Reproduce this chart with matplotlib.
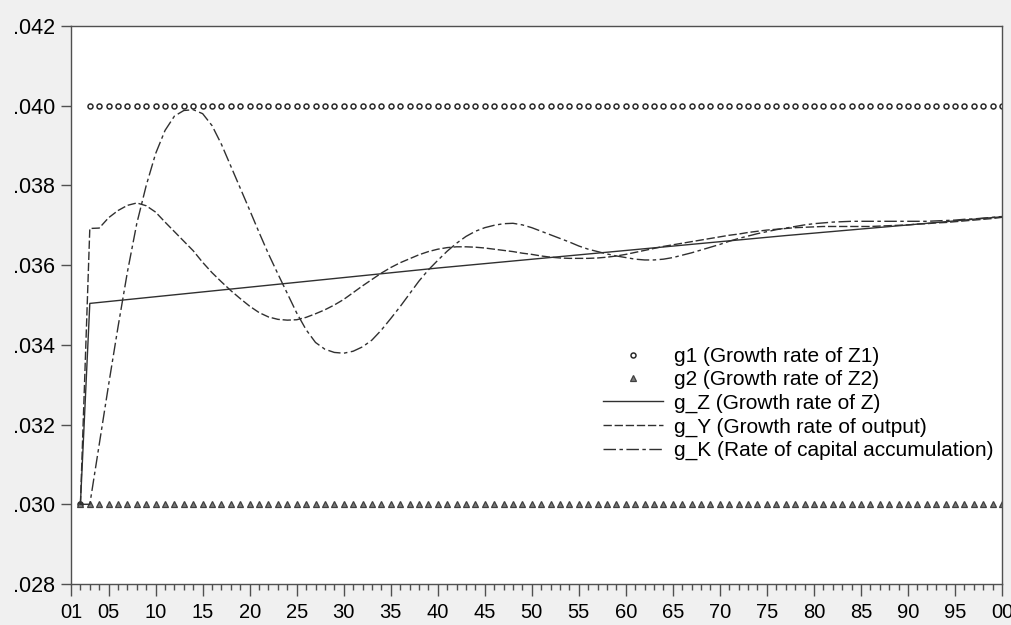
import matplotlib
matplotlib.use("Agg")
import matplotlib.pyplot as plt
from matplotlib.ticker import FixedLocator, MultipleLocator, FixedFormatter

plt.rcParams['font.family'] = ['Liberation Sans', 'DejaVu Sans']

# ---- data (annual, 2002-2100; year index 1 = 2001) ----
years = list(range(2, 101))

g1 = [0.030] + [0.040] * 98
g2 = [0.030] * 99

g_Z = [0.030000, 0.035040, 0.035064, 0.035088, 0.035112, 0.035136, 0.035160, 0.035184, 0.035208,
       0.035232, 0.035256, 0.035280, 0.035304, 0.035328, 0.035352, 0.035376, 0.035400, 0.035424, 0.035448,
       0.035472, 0.035496, 0.035520, 0.035544, 0.035568, 0.035592, 0.035616, 0.035640, 0.035664, 0.035688,
       0.035712, 0.035736, 0.035760, 0.035784, 0.035808, 0.035832, 0.035856, 0.035880, 0.035904, 0.035928,
       0.035950, 0.035972, 0.035994, 0.036016, 0.036038, 0.036060, 0.036082, 0.036104, 0.036126, 0.036148,
       0.036170, 0.036192, 0.036214, 0.036236, 0.036258, 0.036280, 0.036302, 0.036324, 0.036346, 0.036368,
       0.036390, 0.036412, 0.036434, 0.036456, 0.036478, 0.036500, 0.036522, 0.036544, 0.036566, 0.036588,
       0.036610, 0.036632, 0.036654, 0.036676, 0.036698, 0.036720, 0.036742, 0.036762, 0.036783, 0.036803,
       0.036824, 0.036844, 0.036865, 0.036885, 0.036906, 0.036926, 0.036947, 0.036967, 0.036988, 0.037008,
       0.037029, 0.037049, 0.037070, 0.037090, 0.037111, 0.037131, 0.037152, 0.037172, 0.037193, 0.037213]

g_Y = [0.03000, 0.03692, 0.03693, 0.03719, 0.03737, 0.03750, 0.03756, 0.03749, 0.03733,
       0.03708, 0.03684, 0.03660, 0.03636, 0.03607, 0.03581, 0.03558, 0.03536, 0.03516, 0.03497,
       0.03481, 0.03470, 0.03464, 0.03462, 0.03463, 0.03469, 0.03478, 0.03488, 0.03500, 0.03514,
       0.03531, 0.03548, 0.03564, 0.03580, 0.03594, 0.03606, 0.03616, 0.03626, 0.03634, 0.03640,
       0.03644, 0.03646, 0.03646, 0.03645, 0.03643, 0.03640, 0.03637, 0.03634, 0.03630, 0.03627,
       0.03623, 0.03620, 0.03618, 0.03617, 0.03617, 0.03617, 0.03618, 0.03620, 0.03623, 0.03627,
       0.03632, 0.03637, 0.03642, 0.03647, 0.03651, 0.03655, 0.03659, 0.03663, 0.03667, 0.03671,
       0.03675, 0.03678, 0.03682, 0.03685, 0.03688, 0.03690, 0.03692, 0.03694, 0.03695, 0.03696,
       0.03697, 0.03697, 0.03697, 0.03697, 0.03697, 0.03697, 0.03698, 0.03699, 0.03700, 0.03701,
       0.03703, 0.03704, 0.03706, 0.03707, 0.03709, 0.03711, 0.03713, 0.03715, 0.03717, 0.03720]

g_K = [0.03000, 0.03000, 0.03150, 0.03300, 0.03445, 0.03583, 0.03705, 0.03800, 0.03880,
       0.03938, 0.03974, 0.03988, 0.03990, 0.03980, 0.03950, 0.03903, 0.03848, 0.03793, 0.03738,
       0.03682, 0.03628, 0.03578, 0.03529, 0.03480, 0.03438, 0.03406, 0.03389, 0.03381, 0.03379,
       0.03384, 0.03395, 0.03412, 0.03437, 0.03466, 0.03496, 0.03528, 0.03560, 0.03588, 0.03612,
       0.03635, 0.03655, 0.03672, 0.03685, 0.03694, 0.03700, 0.03704, 0.03705, 0.03701, 0.03694,
       0.03685, 0.03676, 0.03667, 0.03658, 0.03648, 0.03640, 0.03634, 0.03628, 0.03623, 0.03619,
       0.03615, 0.03613, 0.03613, 0.03615, 0.03619, 0.03625, 0.03631, 0.03638, 0.03645, 0.03652,
       0.03660, 0.03667, 0.03673, 0.03679, 0.03684, 0.03689, 0.03693, 0.03697, 0.03701, 0.03704,
       0.03706, 0.03708, 0.03709, 0.03710, 0.03710, 0.03710, 0.03710, 0.03710, 0.03710, 0.03710,
       0.03710, 0.03710, 0.03711, 0.03712, 0.03713, 0.03715, 0.03716, 0.03718, 0.03720, 0.03722]

x_ticks = [1, 5, 10, 15, 20, 25, 30, 35, 40, 45, 50, 55, 60, 65, 70, 75, 80, 85, 90, 95, 100]
x_labels = ['01', '05', '10', '15', '20', '25', '30', '35', '40', '45', '50',
            '55', '60', '65', '70', '75', '80', '85', '90', '95', '00']
y_ticks = [0.028, 0.030, 0.032, 0.034, 0.036, 0.038, 0.040, 0.042]
y_labels = ['.028', '.030', '.032', '.034', '.036', '.038', '.040', '.042']

labels = ['g1 (Growth rate of Z1)', 'g2 (Growth rate of Z2)', 'g_Z (Growth rate of Z)',
          'g_Y (Growth rate of output)', 'g_K (Rate of capital accumulation)']

# ---- figure ----
W, H = 1011, 625
fig = plt.figure(figsize=(W / 100, H / 100), dpi=100, facecolor='#f0f0f0')
ax = fig.add_axes([71 / W, 1 - 584 / H, (1002 - 71) / W, (584 - 26) / H])
ax.set_facecolor('white')

line_col = '#303030'
h1, = ax.plot(years, g1, linestyle='none', marker='o', markersize=3.6,
              markerfacecolor='white', markeredgecolor='#2a2a2a', markeredgewidth=1.1)
h2, = ax.plot(years, g2, linestyle='none', marker='^', markersize=4.4,
              markerfacecolor='#7a7a7a', markeredgecolor='#404040', markeredgewidth=0.9)
h3, = ax.plot(years, g_Z, color=line_col, linewidth=1.0, linestyle='-')
h4, = ax.plot(years, g_Y, color=line_col, linewidth=1.0, linestyle=(0, (6, 2)))
h5, = ax.plot(years, g_K, color=line_col, linewidth=1.0, linestyle=(0, (9, 2.5, 2.5, 2.5)))

ax.set_xlim(1, 100)
ax.set_ylim(0.028, 0.042)

ax.xaxis.set_major_locator(FixedLocator(x_ticks))
ax.xaxis.set_major_formatter(FixedFormatter(x_labels))
ax.xaxis.set_minor_locator(MultipleLocator(1))
ax.yaxis.set_major_locator(FixedLocator(y_ticks))
ax.yaxis.set_major_formatter(FixedFormatter(y_labels))

spine_col = '#505050'
for s in ax.spines.values():
    s.set_color(spine_col)
    s.set_linewidth(1.0)

ax.tick_params(axis='x', which='major', direction='out', length=8.5, width=1.0,
               color=spine_col, labelsize=14.5, pad=5)
ax.tick_params(axis='x', which='minor', direction='out', length=4.5, width=1.0,
               color=spine_col)
ax.tick_params(axis='y', which='major', direction='out', length=7.5, width=1.0,
               color=spine_col, labelsize=15.5, pad=4)

leg = ax.legend([h1, h2, h3, h4, h5], labels, loc='upper left',
                bbox_to_anchor=(603 / W, 1 - 347 / H), bbox_transform=fig.transFigure,
                frameon=False, fontsize=15, handlelength=2.9, handletextpad=0.5,
                labelspacing=0.21, borderpad=0, borderaxespad=0, numpoints=1)

fig.savefig('out.png', dpi=100, facecolor=fig.get_facecolor())
